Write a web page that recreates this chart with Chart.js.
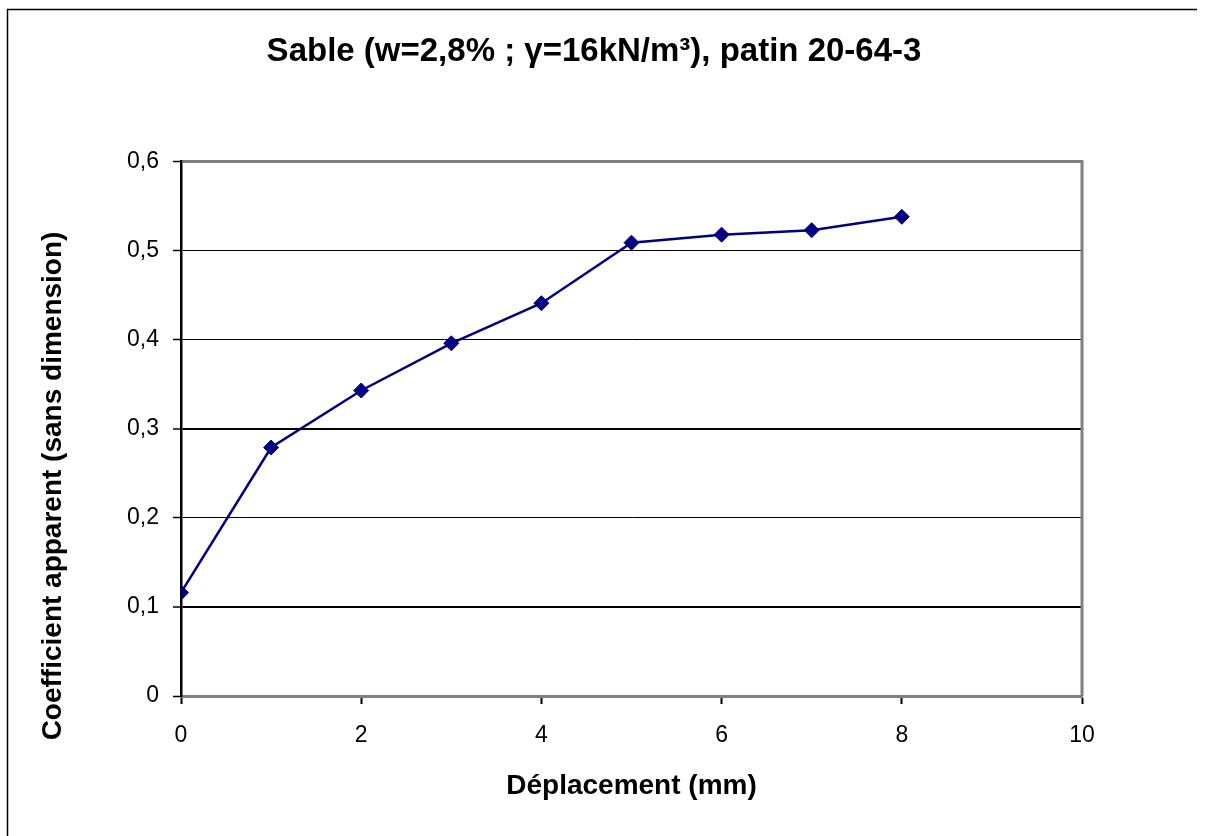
<!DOCTYPE html>
<html>
<head>
<meta charset="utf-8">
<script src="https://cdn.jsdelivr.net/npm/chart.js@4"></script>
<style>
  html, body { margin: 0; padding: 0; background: #fff; }
  #wrap { width: 1216px; height: 836px; position: relative; }
</style>
</head>
<body>
<div id="wrap"><canvas id="frottementChart"></canvas></div>
<script>
// Données
const deplacements = [0, 1, 2, 3, 4, 5, 6, 7, 8];           // mm
const coefficients = [0.116, 0.279, 0.343, 0.396, 0.441, 0.509, 0.518, 0.523, 0.538];
const yTicks = [0, 0.1, 0.2, 0.3, 0.4, 0.5, 0.6];
const xTicks = [0, 2, 4, 6, 8, 10];

const chartTitle = 'Sable (w=2,8% ; \u03b3=16kN/m\u00b3), patin 20-64-3';
const xTitle = 'D\u00e9placement (mm)';
const yTitle = 'Coefficient apparent (sans dimension)';

const FONT = "'Liberation Sans', Arial, sans-serif";
const NAVY = '#000080';

// cadre noir de la figure + bord gris de la zone de tracé + titre vertical
const framePlugin = {
    id: 'frame',
    beforeDatasetsDraw(chart) {
        const { ctx, chartArea } = chart;
        ctx.save();
        ctx.strokeStyle = '#808080';
        ctx.lineWidth = 3;
        ctx.beginPath();
        ctx.moveTo(chartArea.right, chartArea.top - 1.5);
        ctx.lineTo(chartArea.right, chartArea.bottom);
        ctx.stroke();
        ctx.restore();
    },
    afterDraw(chart) {
        const { ctx, chartArea } = chart;
        ctx.save();
        ctx.strokeStyle = '#000';
        ctx.lineWidth = 1.5;
        ctx.beginPath();
        ctx.moveTo(7.5, 836);
        ctx.lineTo(7.5, 9.5);
        ctx.lineTo(1197, 9.5);
        ctx.stroke();

        // titre de l'axe Y (décalé vers le bas comme dans Excel)
        ctx.translate(53, chartArea.bottom - 210);
        ctx.rotate(-Math.PI / 2);
        ctx.fillStyle = '#000';
        ctx.font = 'bold 28px ' + FONT;
        ctx.textAlign = 'center';
        ctx.textBaseline = 'middle';
        ctx.fillText(yTitle, 0, 0);
        ctx.restore();
    }
};

function initChart() {
    const ctx = document.getElementById('frottementChart');
    if (!ctx) {
        console.warn('canvas manquant');
        return;
    }

    const points = deplacements.map((d, i) => ({ x: d, y: coefficients[i] }));

    new Chart(ctx.getContext('2d'), {
        type: 'line',
        data: {
            datasets: [{
                data: points,
                borderColor: NAVY,
                borderWidth: 2.5,
                backgroundColor: NAVY,
                pointStyle: 'rectRot',
                pointRadius: 7.5,
                pointBackgroundColor: NAVY,
                pointBorderColor: NAVY,
                pointBorderWidth: 1,
                tension: 0,
                fill: false
            }]
        },
        options: {
            responsive: true,
            maintainAspectRatio: false,
            animation: false,
            layout: {
                // marge gauche pour recentrer le titre comme dans l'original
                padding: { left: 106, right: 134, top: 0, bottom: 0 }
            },
            plugins: {
                legend: { display: false },
                tooltip: { enabled: false },
                title: {
                    display: true,
                    text: chartTitle,
                    color: '#000',
                    font: { family: FONT, size: 33, weight: 'bold' },
                    padding: { top: 32, bottom: 90 }
                }
            },
            scales: {
                x: {
                    type: 'linear',
                    min: 0,
                    max: 10,
                    afterBuildTicks: (scale) => {
                        scale.ticks = xTicks.map(v => ({ value: v }));
                    },
                    afterFit: (scale) => { scale.height = 140; },
                    ticks: {
                        color: '#000',
                        font: { family: FONT, size: 23 },
                        padding: 18,
                        maxRotation: 0,
                        callback: (v) => String(v)
                    },
                    grid: {
                        drawOnChartArea: false,
                        drawTicks: true,
                        tickLength: 8,
                        tickColor: '#000',
                        tickWidth: 2
                    },
                    border: { color: '#808080', width: 3 },
                    title: {
                        display: true,
                        text: xTitle,
                        color: '#000',
                        font: { family: FONT, size: 28, weight: 'bold' },
                        padding: { top: 0, bottom: 33 }
                    }
                },
                y: {
                    min: 0,
                    max: 0.6,
                    afterBuildTicks: (scale) => {
                        scale.ticks = yTicks.map(v => ({ value: v }));
                    },
                    afterFit: (scale) => { scale.width = 75; },
                    ticks: {
                        color: '#000',
                        font: { family: FONT, size: 23 },
                        padding: 14,
                        callback: (v) => v === 0 ? '0' : v.toFixed(1).replace('.', ',')
                    },
                    grid: {
                        color: (c) => {
                            if (!c.tick) return '#000';
                            if (c.tick.value === 0) return 'rgba(0,0,0,0)';
                            if (Math.abs(c.tick.value - 0.6) < 1e-9) return '#808080';
                            return '#000';
                        },
                        lineWidth: (c) => {
                            if (!c.tick) return 1;
                            const v = Math.round(c.tick.value * 10);
                            if (v === 6) return 3;
                            if (v === 1 || v === 3) return 2;
                            return 1;
                        },
                        tickLength: 8,
                        tickColor: '#000',
                        tickWidth: 1.5
                    },
                    border: { color: '#000', width: 2.5 }
                }
            }
        },
        plugins: [framePlugin]
    });
}

initChart();
</script>
</body>
</html>
